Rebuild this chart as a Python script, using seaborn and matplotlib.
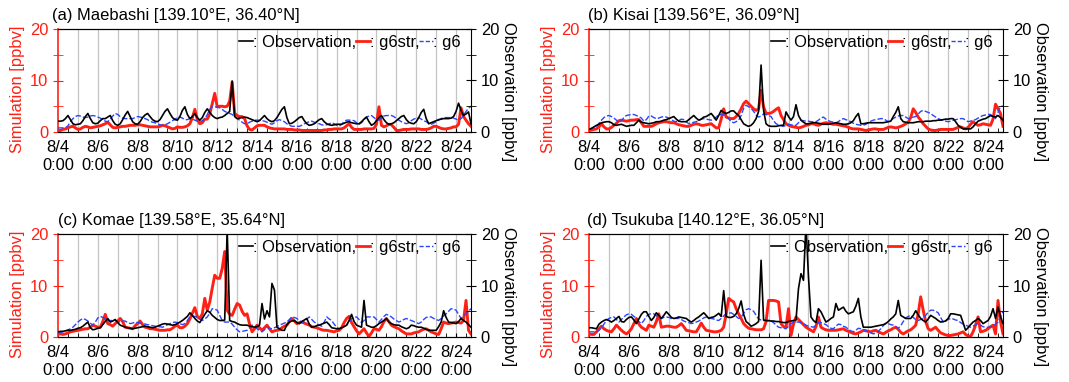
import pandas as pd
import matplotlib
matplotlib.use("Agg")
import matplotlib.pyplot as plt
import matplotlib.dates as mdates
from matplotlib.lines import Line2D
import seaborn as sns

plt.rcParams["font.family"] = ["Liberation Sans", "DejaVu Sans"]
FS = 11.9
plt.rcParams["font.size"] = FS

# 3-hourly series, 8/4 0:00 -> 8/24 18:00 (one row per day)
start = "2018-08-04 00:00"

titles = [
    "(a) Maebashi [139.10°E, 36.40°N]",
    "(b) Kisai [139.56°E, 36.09°N]",
    "(c) Komae [139.58°E, 35.64°N]",
    "(d) Tsukuba [140.12°E, 36.05°N]",
]

obs_maebashi = [
    2.1, 2.1, 2.2, 2.6, 3.2, 2.4, 1.6, 1.4,
    1.5, 1.6, 2.2, 3.0, 3.6, 2.6, 1.8, 1.6,
    1.7, 2.2, 2.6, 2.6, 2.9, 3.2, 2.2, 1.5,
    1.3, 1.6, 2.4, 3.3, 4.0, 3.0, 2.0, 1.6,
    1.5, 2.0, 2.8, 3.3, 3.6, 3.0, 2.4, 2.1,
    2.0, 2.4, 3.2, 4.0, 4.5, 3.6, 2.8, 2.4,
    2.3, 3.0, 4.2, 4.9, 3.4, 2.6, 3.0, 3.6,
    2.8, 2.3, 2.8, 3.8, 4.5, 3.8, 3.2, 2.8,
    2.6, 2.8, 2.9, 3.2, 3.6, 4.0, 9.9, 3.0,
    2.6, 2.7, 2.8, 2.9, 2.8, 2.6, 2.4, 2.2,
    2.0, 2.2, 2.7, 3.2, 2.6, 2.2, 2.0, 2.2,
    2.8, 3.6, 4.4, 4.9, 2.8, 1.6, 1.7, 2.0,
    2.4, 2.8, 3.0, 2.2, 1.6, 1.3, 1.4, 1.6,
    2.0, 2.4, 2.6, 2.0, 1.6, 1.4, 1.3, 1.4,
    1.5, 1.5, 1.5, 1.7, 1.9, 2.0, 1.8, 1.7,
    1.6, 1.6, 2.0, 2.5, 2.9, 2.0, 1.3, 1.6,
    2.2, 2.8, 3.2, 2.4, 1.8, 1.5, 1.6, 1.8,
    2.2, 2.6, 3.0, 3.2, 2.4, 1.9, 1.7, 1.6,
    2.0, 2.8, 3.8, 4.4, 2.6, 1.6, 1.8, 2.0,
    2.2, 2.4, 2.5, 2.6, 2.6, 2.6, 2.7, 3.0,
    4.0, 5.6, 4.2, 3.2, 3.5, 3.9, 1.6,
]
g6str_maebashi = [
    0.3, 0.3, 0.5, 0.6, 0.8, 1.0, 1.1, 0.8,
    0.5, 0.6, 0.9, 1.1, 1.0, 0.8, 0.9, 1.0,
    1.1, 1.2, 1.4, 1.6, 1.9, 1.4, 0.9, 0.8,
    0.9, 1.0, 1.1, 1.1, 1.2, 1.3, 1.3, 1.3,
    1.4, 1.4, 1.3, 1.2, 1.1, 1.0, 1.0, 1.0,
    1.0, 1.1, 1.3, 1.2, 1.0, 0.8, 0.6, 0.7,
    1.0, 0.9, 0.9, 1.0, 1.2, 1.6, 2.8, 4.4,
    2.4, 1.6, 1.8, 2.5, 2.5, 3.5, 5.5, 7.5,
    4.9, 5.0, 5.0, 4.9, 5.0, 6.0, 9.7, 3.6,
    3.2, 3.0, 3.0, 2.6, 1.2, 0.5, 0.4, 0.8,
    1.2, 1.3, 1.3, 1.3, 1.0, 0.8, 0.7, 0.6,
    0.6, 0.6, 0.6, 0.6, 0.5, 0.5, 0.5, 0.4,
    0.4, 0.4, 0.3, 0.3, 0.3, 0.3, 0.3, 0.3,
    0.3, 0.3, 0.3, 0.4, 0.4, 0.5, 0.5, 0.6,
    0.6, 0.6, 0.6, 0.8, 1.2, 1.6, 0.9, 0.5,
    0.5, 0.5, 0.5, 0.6, 0.6, 0.6, 0.6, 0.7,
    1.5, 4.9, 1.3, 1.0, 1.2, 1.5, 1.4, 0.9,
    0.3, 0.3, 0.4, 0.5, 0.5, 0.5, 0.6, 0.6,
    0.6, 0.6, 0.5, 0.5, 0.5, 0.6, 0.8, 1.1,
    1.1, 0.9, 0.7, 0.6, 0.6, 0.7, 0.8, 1.0,
    1.0, 1.5, 4.7, 3.0, 2.3, 1.6, 1.1,
]
g6_maebashi = [
    0.8, 0.8, 0.8, 0.8, 1.2, 2.0, 2.6, 3.0,
    3.2, 3.1, 2.9, 2.8, 2.9, 3.1, 3.2, 3.1,
    2.9, 2.7, 2.4, 2.1, 2.0, 2.5, 3.1, 3.6,
    3.4, 3.0, 2.7, 2.6, 2.6, 2.6, 2.6, 2.8,
    3.0, 2.9, 2.8, 2.6, 2.4, 2.1, 1.9, 1.8,
    1.6, 1.4, 1.3, 1.4, 1.6, 1.9, 2.2, 2.5,
    2.8, 2.9, 2.7, 2.4, 2.4, 2.6, 2.5, 2.3,
    2.1, 2.0, 2.2, 2.5, 3.4, 4.4, 5.0, 4.9,
    4.8, 4.7, 4.4, 4.0, 3.8, 3.6, 3.4, 3.0,
    2.6, 2.3, 1.9, 1.6, 1.6, 1.9, 2.1, 2.3,
    2.3, 2.3, 2.2, 2.1, 1.9, 1.7, 1.5, 1.8,
    2.2, 2.4, 2.2, 2.0, 1.6, 1.3, 1.1, 1.1,
    1.1, 1.1, 1.3, 1.6, 1.8, 2.0, 2.1, 1.9,
    1.7, 1.6, 1.4, 1.3, 1.4, 1.6, 1.8, 1.6,
    1.3, 1.1, 1.5, 2.0, 2.3, 2.3, 2.3, 2.2,
    1.8, 1.5, 1.8, 2.4, 2.9, 3.1, 3.2, 2.8,
    2.4, 2.3, 2.7, 3.1, 3.2, 3.2, 3.2, 3.0,
    2.6, 2.3, 2.0, 1.8, 1.6, 1.8, 2.2, 2.5,
    2.7, 2.8, 2.5, 2.2, 2.0, 1.7, 1.5, 1.7,
    2.0, 2.3, 2.6, 2.8, 2.8, 2.8, 2.8, 2.7,
    2.5, 2.3, 2.6, 3.2, 4.0, 4.6, 5.0,
]

obs_kisai = [
    0.5, 0.7, 1.0, 1.3, 1.5, 1.8, 1.9, 2.0,
    2.0, 1.8, 1.4, 1.3, 1.4, 1.5, 1.3, 1.1,
    1.2, 1.3, 1.3, 1.8, 2.3, 1.9, 1.8, 1.7,
    1.6, 1.7, 1.8, 2.0, 2.0, 2.1, 2.3, 2.4,
    2.6, 2.8, 3.0, 2.5, 2.1, 2.0, 2.0, 2.0,
    2.4, 2.8, 3.2, 2.7, 2.3, 2.5, 2.9, 3.0,
    3.3, 3.6, 3.0, 2.3, 3.2, 4.2, 3.8, 3.6,
    3.8, 4.1, 4.1, 3.6, 3.2, 2.4, 1.6, 1.3,
    1.1, 1.3, 1.8, 2.6, 4.0, 13.0, 4.2, 1.6,
    1.2, 1.1, 1.1, 1.1, 1.2, 1.3, 1.3, 3.9,
    3.0, 2.3, 3.0, 5.3, 3.2, 2.3, 1.9, 1.6,
    1.6, 1.7, 1.8, 1.8, 1.7, 1.6, 1.5, 1.5,
    1.5, 1.6, 1.7, 1.8, 1.7, 1.6, 1.5, 1.5,
    1.6, 1.8, 2.2, 3.0, 3.6, 1.6, 1.6, 1.7,
    1.8, 1.8, 1.8, 1.8, 1.8, 1.8, 1.8, 1.9,
    2.0, 2.1, 3.0, 3.8, 4.9, 2.6, 2.0, 1.9,
    1.8, 1.8, 1.8, 1.9, 2.0, 2.0, 2.0, 2.1,
    2.1, 2.1, 2.2, 2.2, 2.3, 2.3, 2.4, 2.5,
    2.5, 2.6, 2.6, 2.0, 1.3, 0.9, 0.6, 0.6,
    0.6, 0.6, 1.0, 1.6, 2.1, 2.3, 2.5, 2.6,
    2.9, 3.2, 3.0, 2.9, 3.2, 2.8, 2.3,
]
g6str_kisai = [
    0.3, 0.4, 0.5, 0.6, 1.0, 1.6, 1.0, 0.6,
    0.6, 0.9, 1.3, 1.7, 2.2, 2.3, 2.2, 2.1,
    2.2, 2.3, 2.3, 2.4, 2.4, 1.8, 1.1, 1.1,
    1.1, 1.1, 1.3, 1.6, 1.8, 1.9, 2.0, 2.0,
    1.9, 1.8, 1.8, 1.6, 1.4, 1.3, 1.2, 1.1,
    1.1, 1.3, 1.5, 1.6, 1.5, 1.3, 1.3, 1.4,
    1.5, 1.6, 1.2, 0.8, 0.8, 2.5, 4.5, 2.9,
    2.7, 2.6, 2.6, 3.0, 3.6, 4.5, 5.5, 6.0,
    5.5, 5.0, 4.5, 4.2, 4.5, 8.1, 4.9, 3.6,
    3.6, 3.7, 4.0, 4.4, 4.7, 3.2, 2.4, 1.6,
    1.3, 1.1, 1.0, 0.9, 0.8, 0.9, 1.1, 1.3,
    1.4, 1.6, 1.6, 1.4, 1.3, 1.5, 1.7, 1.8,
    1.7, 1.6, 1.5, 1.5, 1.4, 1.3, 1.2, 1.1,
    0.9, 0.7, 0.6, 0.6, 0.6, 0.5, 0.4, 0.3,
    0.4, 0.5, 0.6, 0.6, 0.5, 0.5, 0.5, 0.7,
    0.9, 1.0, 0.9, 0.8, 0.9, 1.1, 1.3, 1.6,
    1.9, 2.8, 4.5, 3.8, 2.9, 2.3, 1.6, 1.1,
    0.6, 0.4, 0.3, 0.3, 0.4, 0.5, 0.5, 0.5,
    0.5, 0.5, 0.5, 0.7, 0.9, 1.0, 0.8, 0.6,
    0.9, 1.5, 2.0, 1.6, 1.3, 1.4, 1.6, 1.5,
    1.4, 1.3, 2.5, 5.4, 4.5, 3.6, 1.1,
]
g6_kisai = [
    0.6, 0.7, 0.9, 1.1, 1.7, 2.3, 2.8, 3.1,
    3.2, 3.0, 2.7, 2.3, 1.9, 2.2, 2.8, 3.2,
    3.3, 3.4, 3.4, 3.2, 3.0, 2.7, 2.1, 2.4,
    3.1, 3.1, 2.8, 2.6, 2.7, 2.9, 3.0, 2.9,
    2.7, 2.4, 2.1, 2.0, 2.2, 2.5, 2.4, 2.0,
    1.6, 1.7, 1.9, 2.0, 2.2, 2.5, 2.6, 2.5,
    2.4, 2.3, 2.5, 2.9, 3.3, 3.4, 3.3, 3.2,
    2.6, 2.0, 1.8, 2.0, 2.3, 3.2, 4.6, 5.2,
    4.9, 4.6, 4.0, 3.3, 2.9, 3.1, 3.5, 3.4,
    3.2, 3.0, 2.2, 1.6, 1.4, 1.2, 1.1, 1.3,
    1.5, 1.4, 1.3, 1.3, 1.8, 2.3, 2.2, 2.1,
    2.1, 2.0, 2.0, 2.0, 2.3, 2.7, 2.9, 2.5,
    2.2, 2.0, 1.9, 1.8, 2.0, 2.4, 2.6, 2.4,
    2.2, 2.0, 1.7, 1.5, 1.4, 1.3, 1.3, 1.5,
    1.8, 2.1, 2.3, 2.4, 2.5, 2.6, 2.6, 2.3,
    2.0, 2.3, 2.6, 2.9, 3.1, 3.2, 3.2, 2.9,
    2.6, 2.7, 2.9, 3.0, 3.5, 4.0, 4.2, 4.0,
    3.8, 3.6, 3.2, 2.9, 2.6, 2.4, 2.3, 2.1,
    2.0, 2.1, 2.3, 2.4, 2.5, 2.6, 2.6, 2.3,
    2.0, 2.1, 2.3, 2.4, 2.7, 3.0, 3.2, 3.3,
    3.4, 3.4, 3.0, 2.6, 3.8, 5.0, 5.0,
]

obs_komae = [
    1.0, 1.1, 1.1, 1.2, 1.3, 1.3, 1.4, 1.5,
    1.7, 1.8, 2.1, 2.5, 2.9, 1.8, 1.4, 1.5,
    1.7, 1.8, 2.4, 3.0, 3.6, 2.9, 3.1, 3.4,
    2.8, 2.3, 2.1, 1.9, 1.8, 1.7, 1.6, 1.7,
    1.8, 1.9, 2.0, 2.1, 2.0, 1.9, 1.8, 1.9,
    2.1, 2.3, 2.5, 2.6, 2.5, 2.4, 2.3, 2.4,
    2.6, 2.9, 3.2, 3.6, 4.0, 4.7, 4.2, 3.6,
    3.1, 2.8, 3.6, 4.4, 5.1, 4.8, 4.2, 3.8,
    3.4, 3.2, 3.2, 3.3, 21.0, 3.2, 3.0, 2.9,
    2.6, 2.4, 2.3, 2.3, 2.3, 2.1, 2.0, 1.9,
    2.0, 2.3, 6.5, 3.5, 5.1, 3.9, 10.4, 9.1,
    1.9, 1.6, 1.3, 1.3, 2.4, 2.9, 3.1, 3.2,
    2.8, 2.6, 3.0, 3.3, 3.6, 2.5, 1.9, 2.0,
    2.2, 2.3, 2.5, 2.7, 2.9, 2.4, 1.8, 1.7,
    1.6, 1.6, 1.8, 2.0, 2.3, 3.2, 4.4, 3.0,
    2.3, 2.1, 1.9, 7.1, 2.3, 2.1, 1.9, 1.9,
    2.2, 2.6, 2.9, 3.2, 3.6, 2.9, 2.6, 2.4,
    2.3, 2.3, 2.0, 1.8, 1.6, 1.8, 2.3, 2.2,
    2.0, 1.9, 1.9, 1.7, 1.5, 1.3, 1.3, 1.3,
    1.3, 2.0, 2.9, 5.1, 3.8, 2.9, 2.8, 2.7,
    2.6, 3.0, 3.6, 3.2, 2.9, 2.4, 1.9,
]
g6str_komae = [
    0.6, 0.6, 0.5, 0.6, 0.8, 1.0, 1.1, 1.2,
    1.3, 1.4, 1.5, 1.6, 1.6, 1.9, 2.3, 2.1,
    1.9, 1.9, 3.0, 4.4, 2.6, 2.4, 2.1, 2.6,
    3.1, 3.6, 3.0, 1.9, 1.8, 1.7, 1.6, 2.2,
    2.6, 3.1, 2.4, 1.9, 1.8, 1.6, 1.6, 1.5,
    1.4, 1.3, 1.3, 1.3, 1.4, 1.4, 1.7, 2.1,
    2.3, 1.8, 1.8, 2.1, 2.6, 3.5, 4.6, 5.7,
    4.0, 3.6, 4.5, 7.5, 5.2, 6.8, 9.5, 12.0,
    11.4, 11.4, 13.3, 16.6, 5.2, 4.4, 4.2, 5.4,
    6.5, 6.2, 5.0, 4.2, 4.5, 2.5, 1.0, 1.6,
    2.3, 1.8, 1.3, 1.8, 2.3, 1.6, 1.0, 1.2,
    1.3, 1.4, 1.8, 2.1, 2.3, 3.0, 3.6, 3.1,
    2.6, 2.8, 2.9, 2.7, 2.5, 2.3, 2.0, 1.9,
    1.8, 1.6, 1.4, 1.3, 1.3, 1.2, 1.1, 1.0,
    1.2, 1.3, 1.8, 2.8, 3.6, 4.0, 2.8, 2.0,
    1.2, 0.6, 1.1, 1.6, 0.8, 0.1, 0.8, 1.6,
    1.5, 1.3, 2.0, 3.0, 3.6, 3.0, 2.3, 2.0,
    1.8, 1.6, 1.2, 0.9, 0.6, 0.6, 0.6, 0.8,
    0.9, 1.0, 1.3, 1.5, 1.6, 1.3, 1.0, 0.8,
    0.6, 0.5, 1.6, 2.9, 2.7, 2.6, 2.7, 2.8,
    2.9, 2.8, 2.7, 3.2, 7.1, 1.3, 0.6,
]
g6_komae = [
    0.8, 0.9, 1.0, 1.2, 1.4, 1.6, 1.9, 2.4,
    2.9, 3.3, 3.6, 3.4, 3.1, 2.7, 2.3, 2.9,
    3.7, 4.0, 3.8, 3.5, 3.2, 3.2, 3.2, 3.2,
    3.0, 2.9, 3.1, 3.1, 2.8, 2.6, 2.7, 2.9,
    2.8, 2.7, 2.6, 2.5, 2.4, 2.3, 2.2, 2.1,
    2.0, 2.0, 1.9, 2.1, 2.4, 2.6, 2.8, 2.9,
    2.8, 2.6, 2.4, 2.6, 3.2, 3.9, 4.0, 4.0,
    3.8, 3.5, 3.2, 3.5, 3.9, 4.6, 5.5, 5.4,
    5.2, 4.2, 3.2, 2.9, 2.9, 2.9, 2.5, 1.9,
    1.4, 1.0, 1.1, 1.2, 1.3, 1.8, 2.3, 2.0,
    1.6, 1.3, 1.0, 1.4, 1.9, 1.7, 1.6, 1.8,
    2.0, 2.3, 2.5, 2.7, 2.9, 3.4, 3.9, 3.8,
    3.6, 3.2, 2.8, 3.0, 3.5, 3.9, 3.4, 2.9,
    2.6, 2.3, 2.1, 2.9, 3.9, 3.5, 3.2, 2.5,
    1.9, 1.6, 1.8, 2.1, 2.3, 2.9, 3.6, 3.8,
    3.9, 3.4, 2.8, 3.2, 3.9, 3.9, 3.9, 3.9,
    3.4, 2.9, 3.4, 4.0, 4.4, 4.2, 3.9, 3.5,
    3.2, 2.9, 3.1, 3.4, 3.6, 3.4, 3.2, 3.0,
    2.8, 2.6, 2.9, 3.4, 3.8, 3.9, 3.9, 3.6,
    3.4, 3.2, 3.6, 4.1, 4.5, 5.0, 5.5, 5.4,
    5.2, 4.4, 3.6, 4.0, 4.5, 5.0, 5.5,
]

obs_tsukuba = [
    1.8, 1.8, 1.7, 1.6, 2.5, 2.9, 3.2, 3.4,
    3.2, 2.9, 3.2, 3.6, 4.0, 3.0, 2.9, 3.4,
    3.8, 3.9, 3.3, 2.6, 3.5, 4.4, 4.9, 4.9,
    4.0, 3.2, 3.8, 4.7, 4.2, 3.6, 4.2, 4.9,
    4.4, 3.8, 3.6, 3.7, 3.9, 3.8, 3.7, 3.6,
    3.2, 2.9, 3.2, 3.6, 3.9, 4.3, 4.7, 4.2,
    3.6, 3.8, 3.9, 4.2, 4.6, 4.0, 9.0, 4.0,
    3.8, 3.8, 4.0, 4.5, 5.5, 7.0, 4.4, 3.0,
    2.6, 2.1, 2.3, 2.6, 3.0, 14.9, 3.3, 3.2,
    3.2, 3.1, 3.1, 3.0, 3.0, 2.9, 2.8, 2.8,
    3.0, 3.1, 3.2, 3.3, 9.4, 12.3, 11.0, 22.0,
    11.7, 3.9, 3.2, 2.8, 5.5, 4.9, 3.9, 2.9,
    3.2, 3.6, 3.9, 6.5, 5.2, 5.5, 5.8, 5.0,
    4.5, 4.7, 4.9, 6.0, 7.5, 3.9, 1.9, 1.9,
    1.9, 1.9, 2.0, 2.1, 2.2, 2.3, 2.4, 2.6,
    3.0, 3.5, 3.9, 4.5, 7.1, 4.2, 3.9, 3.6,
    3.6, 3.6, 4.2, 5.1, 4.3, 3.6, 3.2, 2.9,
    3.5, 4.2, 3.9, 3.6, 3.2, 2.9, 3.0, 3.1,
    3.6, 4.5, 4.5, 4.4, 4.3, 4.2, 2.8, 1.3,
    1.8, 2.4, 2.9, 3.2, 3.6, 3.2, 2.6, 2.9,
    3.2, 4.0, 5.5, 3.6, 5.8, 4.0, 2.6,
]
g6str_tsukuba = [
    0.6, 0.5, 0.5, 1.0, 1.6, 2.1, 1.6, 1.3,
    1.1, 1.0, 1.6, 2.3, 1.8, 1.3, 0.9, 0.6,
    1.0, 1.6, 2.6, 3.6, 2.5, 1.9, 1.6, 1.3,
    2.3, 2.1, 1.9, 3.0, 4.5, 1.9, 2.0, 2.1,
    2.1, 2.0, 1.9, 1.9, 2.2, 2.6, 2.0, 1.3,
    1.2, 1.1, 1.0, 1.0, 1.8, 2.7, 1.9, 1.3,
    1.2, 1.1, 1.0, 1.0, 1.1, 1.3, 1.9, 4.5,
    7.5, 7.1, 6.8, 5.5, 4.5, 3.6, 2.6, 2.1,
    1.7, 1.6, 1.5, 1.4, 1.4, 1.4, 1.6, 3.0,
    7.1, 7.1, 7.1, 7.0, 6.8, 2.6, 2.0, 1.9,
    5.5, 0.3, 2.5, 3.9, 3.4, 2.9, 2.4, 1.9,
    1.6, 1.3, 1.0, 2.0, 3.9, 1.9, 1.6, 1.4,
    1.3, 1.3, 1.3, 1.3, 1.4, 1.5, 1.6, 1.3,
    1.1, 0.9, 0.7, 0.6, 0.8, 1.0, 1.3, 1.2,
    1.1, 1.0, 1.2, 1.3, 1.0, 0.8, 0.6, 0.9,
    1.2, 1.4, 1.7, 1.9, 1.5, 0.9, 0.6, 0.9,
    1.2, 1.4, 1.8, 2.3, 4.5, 7.8, 5.2, 3.0,
    1.6, 1.3, 1.6, 1.9, 1.3, 0.8, 0.6, 0.4,
    0.3, 0.3, 0.4, 0.5, 0.6, 0.8, 1.0, 0.5,
    0.2, 0.1, 1.0, 2.3, 3.9, 1.0, 1.1, 1.3,
    1.6, 2.0, 2.3, 0.6, 7.1, 3.0, 0.6,
]
g6_tsukuba = [
    1.0, 1.0, 1.0, 1.0, 1.3, 1.8, 2.5, 3.2,
    3.6, 3.8, 3.9, 3.4, 2.9, 3.4, 3.9, 4.3,
    4.5, 4.4, 4.0, 3.6, 3.0, 2.6, 3.2, 4.0,
    4.4, 4.5, 4.5, 4.2, 3.7, 3.6, 3.8, 3.9,
    3.8, 3.6, 3.6, 3.6, 3.6, 3.4, 3.1, 2.9,
    2.8, 2.6, 2.7, 2.9, 3.1, 3.4, 3.7, 3.9,
    3.8, 3.6, 3.5, 3.3, 3.2, 3.6, 4.1, 4.5,
    4.6, 4.7, 4.4, 4.0, 3.6, 3.8, 4.6, 5.3,
    5.5, 5.3, 5.0, 4.2, 3.5, 3.3, 3.2, 3.1,
    3.1, 3.1, 2.8, 2.3, 1.9, 1.8, 1.7, 1.6,
    2.1, 2.6, 2.9, 2.9, 2.9, 2.8, 2.6, 2.3,
    2.1, 2.0, 1.9, 2.3, 2.8, 2.8, 2.6, 2.4,
    2.0, 1.7, 1.6, 2.1, 2.5, 2.4, 2.1, 1.9,
    1.5, 1.2, 1.0, 1.3, 1.7, 1.6, 1.4, 1.3,
    1.0, 0.8, 0.6, 0.8, 1.1, 1.6, 2.2, 2.7,
    2.6, 2.4, 2.3, 2.0, 1.7, 2.2, 3.0, 3.7,
    4.0, 4.2, 3.8, 3.4, 3.2, 3.4, 3.6, 4.2,
    4.8, 5.2, 5.2, 5.0, 4.7, 3.8, 2.9, 3.2,
    3.4, 3.6, 3.5, 3.3, 3.2, 2.8, 2.5, 2.3,
    2.1, 1.9, 2.1, 2.4, 2.6, 2.3, 2.0, 1.9,
    1.9, 1.9, 2.1, 2.5, 2.9, 4.0, 4.9,
]

obs_sets = [obs_maebashi, obs_kisai, obs_komae, obs_tsukuba]
g6str_sets = [g6str_maebashi, g6str_kisai, g6str_komae, g6str_tsukuba]
g6_sets = [g6_maebashi, g6_kisai, g6_komae, g6_tsukuba]

times = pd.date_range(start, periods=len(obs_maebashi), freq="3h")
tick_days = pd.date_range("2018-08-04", "2018-08-24", freq="2D")
tick_labels = [f"{d.month}/{d.day}\n0:00" for d in tick_days]
grid_days = pd.date_range("2018-08-05", "2018-08-24", freq="D")

RED = "#ff2015"
BLUE = "#2a45ff"
W, H = 1069, 382
rects = [
    (58, 29, 413, 103), (589, 29, 414, 103),
    (58, 234, 413, 103), (589, 234, 414, 103),
]
title_x = [-0.014, -0.003, 0.0, -0.004]

fig = plt.figure(figsize=(W / 100, H / 100), dpi=100)

for i, title in enumerate(titles):
    x0, y0, w, h = rects[i]
    ax = fig.add_axes([x0 / W, 1 - (y0 + h) / H, w / W, h / H])
    ax2 = ax.twinx()

    for d in grid_days:
        ax.axvline(d, color="#c4c4c4", lw=0.9, zorder=0)

    sns.lineplot(x=times, y=g6str_sets[i], ax=ax, color=RED, linewidth=2.1,
                 errorbar=None, zorder=2)
    sns.lineplot(x=times, y=g6_sets[i], ax=ax, color=BLUE, linewidth=1.0,
                 linestyle=(0, (4, 1.5)), errorbar=None, zorder=3)
    sns.lineplot(x=times, y=obs_sets[i], ax=ax2, color="black", linewidth=1.2,
                 errorbar=None)

    for a in (ax, ax2):
        a.set_xlim(times[0], times[-1])
        a.set_ylim(0, 20)
        a.set_yticks([0, 10, 20])
        a.set_yticks([5, 15], minor=True)

    ax.set_xticks(tick_days)
    ax.set_xticklabels(tick_labels, linespacing=1.2)
    ax.xaxis.set_minor_locator(mdates.HourLocator(byhour=[0, 12]))
    ax.tick_params(axis="x", which="both", direction="in", length=3,
                   labelsize=FS, pad=6)
    ax2.tick_params(axis="x", which="both", length=0)

    ax.tick_params(axis="y", which="both", direction="inout", length=7,
                   color=RED, labelcolor=RED, labelsize=FS)
    ax2.tick_params(axis="y", which="both", direction="inout", length=7,
                    color="black", labelcolor="black", labelsize=FS)

    ax.spines["left"].set_color(RED)
    ax.spines["left"].set_linewidth(1.2)
    ax2.spines["left"].set_visible(False)
    ax.spines["right"].set_visible(False)

    ax.set_xlabel("")
    ax.set_ylabel("Simulation [ppbv]", color=RED, fontsize=FS)
    ax.yaxis.set_label_coords(-0.08, 0.41)
    ax2.set_ylabel("Observation [ppbv]", color="black", fontsize=FS,
                   rotation=270, va="bottom")
    ax2.yaxis.set_label_coords(1.072, 0.39)

    ax.text(title_x[i], 1.085, title, transform=ax.transAxes, ha="left",
            va="baseline", fontsize=FS)

    handles = [
        Line2D([], [], color="black", lw=1.2),
        Line2D([], [], color=RED, lw=2.0),
        Line2D([], [], color=BLUE, lw=1.0, linestyle=(0, (3, 1.5))),
    ]
    ax2.legend(handles, [": Observation,", ": g6str,", ": g6"],
               loc="upper right", bbox_to_anchor=(0.99, 1.0), ncol=3,
               frameon=False, fontsize=FS, handlelength=0.85,
               handletextpad=0.0, columnspacing=0.0, borderpad=0.25,
               borderaxespad=0.1)

fig.savefig("out.png", dpi=100)
